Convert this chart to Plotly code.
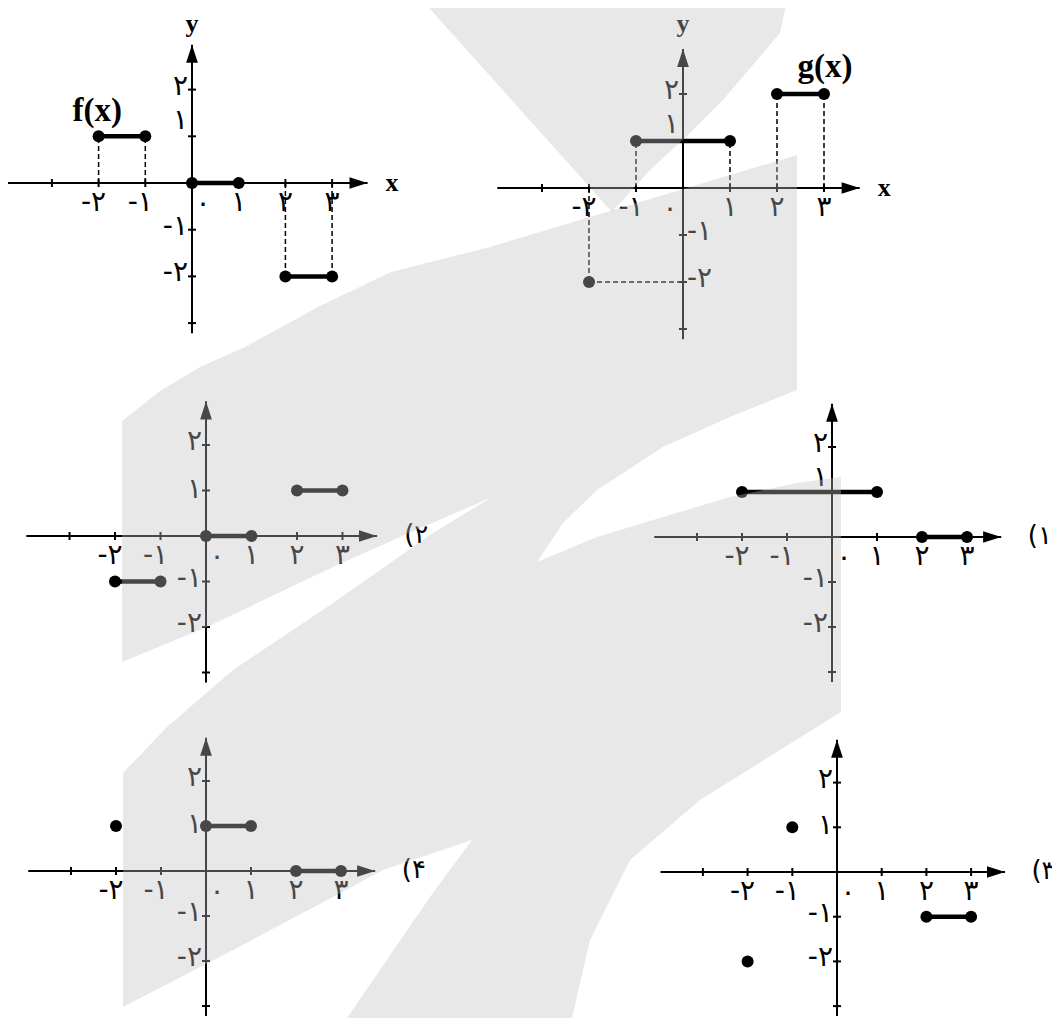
import plotly.graph_objects as go

# the page adds an 8px body margin, so the figure is drawn 8px in from the corner
OFF = 8
W, H = 1060 - OFF, 1018 - OFF

# ---- values ----
# f(x): horizontal pieces (start x, end x, height)
f_x0 = [-2, 0, 2]
f_x1 = [-1, 1, 3]
f_y = [1, 0, -2]

# g(x): pieces and a single point
g_x0 = [-1, 2]
g_x1 = [1, 3]
g_y = [1, 2]
g_pt_x = [-2]
g_pt_y = [-2]

# answer choices
opt1_x0 = [-2, 2]
opt1_x1 = [1, 3]
opt1_y = [1, 0]

opt2_x0 = [-2, 0, 2]
opt2_x1 = [-1, 1, 3]
opt2_y = [-1, 0, 1]

opt3_x0 = [2]
opt3_x1 = [3]
opt3_y = [-1]
opt3_pt_x = [-2, -1]
opt3_pt_y = [-2, 1]

opt4_x0 = [0, 2]
opt4_x1 = [1, 3]
opt4_y = [1, 0]
opt4_pt_x = [-2]
opt4_pt_y = [1]

x_ticks = [-3, -2, -1, 1, 2, 3]
x_tick_text = ["", "-۲", "-۱", "۱", "۲", "۳"]
y_ticks = [2, 1, -1, -2, -3]
y_tick_text = ["۲", "۱", "-۱", "-۲", ""]
zero_text = "۰"

# panel placement in screen pixels (origin, pixels per unit)
panels = [
    dict(seg=(f_x0, f_x1, f_y), pts=([], []), ox=192, oy=183, u=46.7, guides=True,
         title="f(x)", title_xy=(-2.03, 1.5), names=True, neg_right=False, raise_one=14,
         zero_dx=11, tag=None),
    dict(seg=(g_x0, g_x1, g_y), pts=(g_pt_x, g_pt_y), ox=683, oy=188, u=47.0, guides=True,
         title="g(x)", title_xy=(3.02, 2.53), names=True, neg_right=True, raise_one=15,
         zero_dx=-13, tag=None),
    dict(seg=(opt2_x0, opt2_x1, opt2_y), pts=([], []), ox=206, oy=536, u=45.5, guides=False,
         title=None, names=False, neg_right=False, raise_one=0, zero_dx=11, tag="(۲"),
    dict(seg=(opt1_x0, opt1_x1, opt1_y), pts=([], []), ox=832, oy=537, u=45.0, guides=False,
         title=None, names=False, neg_right=False, raise_one=13, zero_dx=12, tag="(۱"),
    dict(seg=(opt4_x0, opt4_x1, opt4_y), pts=(opt4_pt_x, opt4_pt_y), ox=206, oy=871, u=45.0, guides=False,
         title=None, names=False, neg_right=False, raise_one=0, zero_dx=11, tag="(۴"),
    dict(seg=(opt3_x0, opt3_x1, opt3_y), pts=(opt3_pt_x, opt3_pt_y), ox=837, oy=872, u=44.7, guides=False,
         title=None, names=False, neg_right=False, raise_one=0, zero_dx=11, tag="(۳"),
]

# watermark outline (screen pixels)
mark_main = [
    (122, 421), (160, 391), (200, 367), (245, 347), (320, 306), (391, 272), (490, 247),
    (590, 217), (690, 187), (797, 155), (797, 390), (730, 417), (663, 447), (597, 490),
    (563, 523), (537, 562), (597, 537), (663, 517), (730, 497), (797, 483), (841, 477),
    (841, 712), (700, 800), (630, 860), (590, 940), (572, 1018), (347, 1018), (430, 897),
    (472, 840), (383, 870), (333, 897), (233, 950), (123, 1007), (123, 773), (167, 727),
    (233, 670), (333, 603), (433, 533), (492, 497), (400, 537), (333, 567), (207, 627),
    (122, 662),
]
mark_top = [(422, 0), (787, 0), (780, 33), (757, 60), (723, 100), (690, 133), (650, 170), (612, 212)]

INK = "black"
DIGIT_FONT = "DejaVu Sans"
SERIF = "Liberation Serif"


def px_path(points):
    parts = []
    for i, (px, py) in enumerate(points):
        fx = (px - OFF) / W
        fy = 1 - (py - OFF) / H
        parts.append(("M" if i == 0 else "L") + f"{fx:.5f},{fy:.5f}")
    return " ".join(parts) + " Z"


fig = go.Figure()
axes = {}

for k, p in enumerate(panels, start=1):
    xa = "x" if k == 1 else f"x{k}"
    ya = "y" if k == 1 else f"y{k}"
    u = p["u"]
    ox, oy = p["ox"] - OFF, p["oy"] - OFF
    axes["xaxis" if k == 1 else f"xaxis{k}"] = dict(
        domain=[0, 1], range=[-ox / u, (W - ox) / u], visible=False, anchor=ya)
    axes["yaxis" if k == 1 else f"yaxis{k}"] = dict(
        domain=[0, 1], range=[-(H - oy) / u, oy / u], visible=False, anchor=xa)
    common = dict(xaxis=xa, yaxis=ya, showlegend=False, hoverinfo="skip", cliponaxis=False)

    x_end, y_end = 3.76, 2.96
    t = 4 / u
    # axes and tick marks
    lx = [-3.95, x_end, None, 0, 0, None]
    ly = [0, 0, None, -3.22, y_end, None]
    for v in x_ticks:
        lx += [v, v, None]
        ly += [-t, t, None]
    for v in y_ticks:
        lx += [-t, t, None]
        ly += [v, v, None]
    fig.add_trace(go.Scatter(x=lx, y=ly, mode="lines", line=dict(color=INK, width=2), **common))
    fig.add_trace(go.Scatter(x=[x_end, 0], y=[0, y_end], mode="markers",
                             marker=dict(symbol="arrow", size=19, angle=[90, 0], color=INK), **common))

    x0s, x1s, ys = p["seg"]
    pxs, pys = p["pts"]

    # dashed guides back to the axes
    if p["guides"]:
        gx, gy = [], []
        for a, b, h in zip(x0s, x1s, ys):
            if h != 0:
                gx += [a, a, None, b, b, None]
                gy += [0, h, None, 0, h, None]
        for a, h in zip(pxs, pys):
            gx += [a, a, None, a, 0, None]
            gy += [0, h, None, h, h, None]
        fig.add_trace(go.Scatter(x=gx, y=gy, mode="lines",
                                 line=dict(color=INK, width=1.5, dash="5px,3px"), **common))

    # pieces with closed dots at both ends
    sx, sy = [], []
    for a, b, h in zip(x0s, x1s, ys):
        sx += [a, b, None]
        sy += [h, h, None]
    fig.add_trace(go.Scatter(x=sx, y=sy, mode="lines", line=dict(color=INK, width=4.5), **common))
    dx = [v for a, b in zip(x0s, x1s) for v in (a, b)] + list(pxs)
    dy = [h for h in ys for _ in (0, 1)] + list(pys)
    fig.add_trace(go.Scatter(x=dx, y=dy, mode="markers", marker=dict(size=12, color=INK), **common))

    # tick labels
    tx, ty, tt, tp = [], [], [], []
    for v, s in zip(x_ticks, x_tick_text):
        if s:
            tx.append(v + (-5 / u if v < 0 else 0))
            ty.append(-21 / u)
            tt.append(s)
            tp.append("middle center")
    for v, s in zip(y_ticks, y_tick_text):
        if not s:
            continue
        right = v < 0 and p["neg_right"]
        tx.append(4 / u if right else -4 / u)
        ty.append(v + (p["raise_one"] / u if v == 1 else 2 / u))
        tt.append(s)
        tp.append("middle right" if right else "middle left")
    fig.add_trace(go.Scatter(x=tx, y=ty, mode="text", text=tt, textposition=tp,
                             textfont=dict(family=DIGIT_FONT, size=28, color=INK), **common))
    fig.add_trace(go.Scatter(x=[p["zero_dx"] / u], y=[-22 / u], mode="text", text=[zero_text],
                             textposition="middle center",
                             textfont=dict(family=DIGIT_FONT, size=28, color=INK), **common))

    if p["names"]:
        # axis names; "y" kept ~24px below the top of the page so it is not clipped
        fig.add_trace(go.Scatter(x=[4.28, 0], y=[-0.03, (p["oy"] - 25) / u], mode="text",
                                 text=["x", "y"], textposition="middle center",
                                 textfont=dict(family=SERIF, size=26, color=INK, weight="bold"), **common))
    if p["title"]:
        fig.add_trace(go.Scatter(x=[p["title_xy"][0]], y=[p["title_xy"][1]], mode="text",
                                 text=[p["title"]], textposition="middle center",
                                 textfont=dict(family=SERIF, size=33, color=INK, weight="bold"), **common))
    if p["tag"]:
        fig.add_trace(go.Scatter(x=[4.62], y=[0], mode="text", text=[p["tag"]],
                                 textposition="middle center",
                                 textfont=dict(family=DIGIT_FONT, size=26, color=INK), **common))

shade = "rgba(192,192,192,0.37)"
shapes = [
    dict(type="path", path=px_path(mark_main), xref="paper", yref="paper",
         fillcolor=shade, line=dict(width=0), layer="above"),
    dict(type="path", path=px_path(mark_top), xref="paper", yref="paper",
         fillcolor=shade, line=dict(width=0), layer="above"),
]

fig.update_layout(
    width=W, height=H,
    margin=dict(l=0, r=0, t=0, b=0),
    paper_bgcolor="white",
    plot_bgcolor="rgba(0,0,0,0)",
    hovermode=False,
    shapes=shapes,
    **axes,
)

fig.write_html("out.html")
